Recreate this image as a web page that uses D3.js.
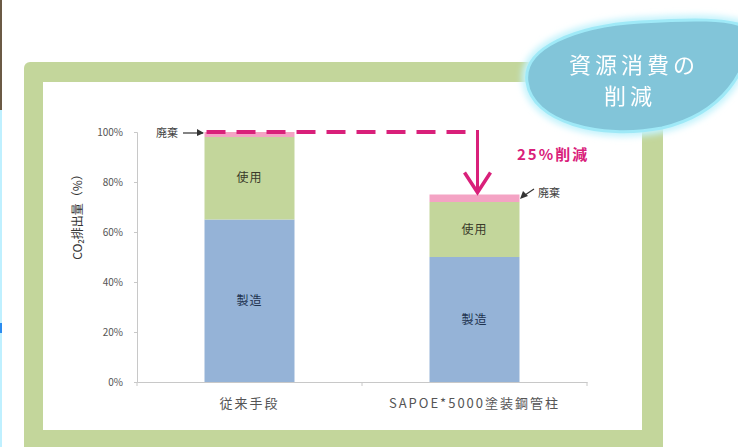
<!DOCTYPE html>
<html>
<head>
<meta charset="utf-8">
<script src="https://cdn.jsdelivr.net/npm/d3@7"></script>
<style>
  html, body { margin: 0; padding: 0; background: #ffffff; }
  svg { display: block; }
  text { font-family: "Noto Sans CJK JP", "Noto Sans", sans-serif; }
</style>
</head>
<body>
<svg id="chart" width="738" height="447"></svg>
<script>
// Chart data
const categories = ["従来手段", "SAPOE*5000塗装鋼管柱"];
const stages = ["製造", "使用", "廃棄"];
const manufacture = [65, 50];
const usage = [33, 22];
const disposal = [2, 3];
const yTicks = [0, 20, 40, 60, 80, 100];
const reductionLabel = "25%削減";

const stageColors = { "製造": "#95b3d7", "使用": "#c3d69b", "廃棄": "#f4a3c4" };
const magenta = "#d9207a";

const svg = d3.select("#chart");

// Page background and edge strips
svg.append("rect").attr("x", 0).attr("y", 0).attr("width", 738).attr("height", 447).attr("fill", "#ffffff");
svg.append("rect").attr("x", 0).attr("y", 0).attr("width", 2).attr("height", 110).attr("fill", "#6b5a45");
svg.append("rect").attr("x", 0).attr("y", 110).attr("width", 2).attr("height", 337).attr("fill", "#bff0ff");
svg.append("rect").attr("x", 0).attr("y", 323).attr("width", 2).attr("height", 10).attr("fill", "#2a8cf0");

// Green frame
svg.append("rect")
  .attr("x", 24).attr("y", 62).attr("width", 639).attr("height", 400)
  .attr("rx", 6).attr("fill", "#c3d69b");
svg.append("rect")
  .attr("x", 43).attr("y", 82).attr("width", 599).attr("height", 348)
  .attr("fill", "#ffffff");

// Scales
const x = d3.scaleBand().domain(categories).range([137, 587]).paddingInner(0.6).paddingOuter(0.3);
const y = d3.scaleLinear().domain([0, 100]).range([382, 132]);

// Stack the series
const rows = categories.map((c, i) => ({ cat: c, "製造": manufacture[i], "使用": usage[i], "廃棄": disposal[i] }));
const stacked = d3.stack().keys(stages)(rows);

const g = svg.append("g");
stacked.forEach(layer => {
  g.selectAll(null).data(layer).enter().append("rect")
    .attr("x", d => x(d.data.cat))
    .attr("width", x.bandwidth())
    .attr("y", d => y(d[1]))
    .attr("height", d => y(d[0]) - y(d[1]))
    .attr("fill", stageColors[layer.key]);
});

// Segment labels
stacked.slice(0, 2).forEach(layer => {
  g.selectAll(null).data(layer).enter().append("text")
    .attr("x", d => x(d.data.cat) + x.bandwidth() / 2)
    .attr("y", d => y((d[0] + d[1]) / 2) + 4)
    .attr("text-anchor", "middle")
    .attr("font-size", 12)
    .attr("letter-spacing", 1)
    .attr("fill", layer.key === "製造" ? "#1f3350" : "#3a3a2a")
    .text(layer.key);
});

// Y axis
const yAxis = d3.axisLeft(y).tickValues(yTicks).tickFormat(d => d + "%").tickSize(3).tickPadding(11);
const ya = svg.append("g").attr("transform", "translate(137,0)").call(yAxis);
ya.select(".domain").attr("stroke", "#c8c8c8");
ya.selectAll(".tick line").attr("stroke", "#c8c8c8");
ya.selectAll(".tick text").attr("fill", "#555").attr("font-size", 10)
  .attr("font-family", "'Liberation Sans', sans-serif");

// X axis
const xAxis = d3.axisBottom(x).tickSize(0).tickPadding(17);
const xa = svg.append("g").attr("transform", "translate(0,382)").call(xAxis);
xa.select(".domain").attr("stroke", "#c8c8c8");
xa.selectAll(".tick text").attr("fill", "#555").attr("font-size", 13).attr("letter-spacing", 2);
[137, 362, 587].forEach(px => {
  svg.append("line").attr("x1", px).attr("x2", px).attr("y1", 382).attr("y2", 386).attr("stroke", "#c8c8c8");
});

// Y axis title
svg.append("text")
  .attr("transform", "translate(82,214) rotate(-90)")
  .attr("text-anchor", "middle")
  .attr("font-size", 12)
  .attr("fill", "#333")
  .text("CO₂排出量（%）");

// Dashed reference line at the conventional total
const total0 = manufacture[0] + usage[0] + disposal[0];
const total1 = manufacture[1] + usage[1] + disposal[1];
const arrowX = x(categories[1]) + x.bandwidth() / 2 + 3;
svg.append("line")
  .attr("x1", x(categories[0]) + 2).attr("x2", arrowX)
  .attr("y1", y(total0)).attr("y2", y(total0))
  .attr("stroke", magenta).attr("stroke-width", 4)
  .attr("stroke-dasharray", "19,11");

// Reduction arrow
svg.append("line")
  .attr("x1", arrowX).attr("x2", arrowX)
  .attr("y1", y(total0) - 2).attr("y2", y(total1) - 2)
  .attr("stroke", magenta).attr("stroke-width", 3);
svg.append("path")
  .attr("d", `M${arrowX - 13},${y(total1) - 22} L${arrowX},${y(total1) - 2} L${arrowX + 13},${y(total1) - 22}`)
  .attr("fill", "none").attr("stroke", magenta).attr("stroke-width", 3.5)
  .attr("stroke-linejoin", "miter");

svg.append("text")
  .attr("x", 517).attr("y", 160)
  .attr("font-size", 15).attr("font-weight", "bold")
  .attr("letter-spacing", 2)
  .attr("fill", magenta)
  .text(reductionLabel);

// Disposal callouts
svg.append("text").attr("x", 156).attr("y", 137).attr("font-size", 11).attr("fill", "#444").text("廃棄");
svg.append("path").attr("d", "M183,133 L203,133").attr("stroke", "#333").attr("stroke-width", 1.2);
svg.append("path").attr("d", "M197,129 L204,133 L197,136 Z").attr("fill", "#333");

svg.append("text").attr("x", 538).attr("y", 197).attr("font-size", 11).attr("fill", "#444").text("廃棄");
svg.append("path").attr("d", "M534,189 L522,197").attr("stroke", "#333").attr("stroke-width", 1.2);
svg.append("path").attr("d", "M520,199 L523,191 L528,196 Z").attr("fill", "#333");

// Title bubble
const defs = svg.append("defs");
const glow = defs.append("filter").attr("id", "glow").attr("x", "-20%").attr("y", "-30%").attr("width", "140%").attr("height", "160%");
glow.append("feGaussianBlur").attr("stdDeviation", 3);
const soft = defs.append("filter").attr("id", "soft");
soft.append("feGaussianBlur").attr("stdDeviation", 0.5);

const bubblePath = "M527,82 C522,48 575,26 640,22 C690,19 730,18 748,28 C752,70 722,114 662,128 C600,140 532,122 527,82 Z";
svg.append("path").attr("d", bubblePath)
  .attr("fill", "#d4f6fc").attr("stroke", "#c4f3fc").attr("stroke-width", 10)
  .attr("filter", "url(#glow)");
svg.append("path").attr("d", bubblePath)
  .attr("fill", "#82c5d9").attr("stroke", "#9fe9f7").attr("stroke-width", 3);

const titleG = svg.append("g").attr("filter", "url(#soft)");
titleG.append("text").attr("x", 634).attr("y", 73).attr("text-anchor", "middle")
  .attr("font-size", 22).attr("letter-spacing", 4).attr("fill", "#ffffff").text("資源消費の");
titleG.append("text").attr("x", 630).attr("y", 104).attr("text-anchor", "middle")
  .attr("font-size", 22).attr("letter-spacing", 4).attr("fill", "#ffffff").text("削減");
</script>
</body>
</html>
